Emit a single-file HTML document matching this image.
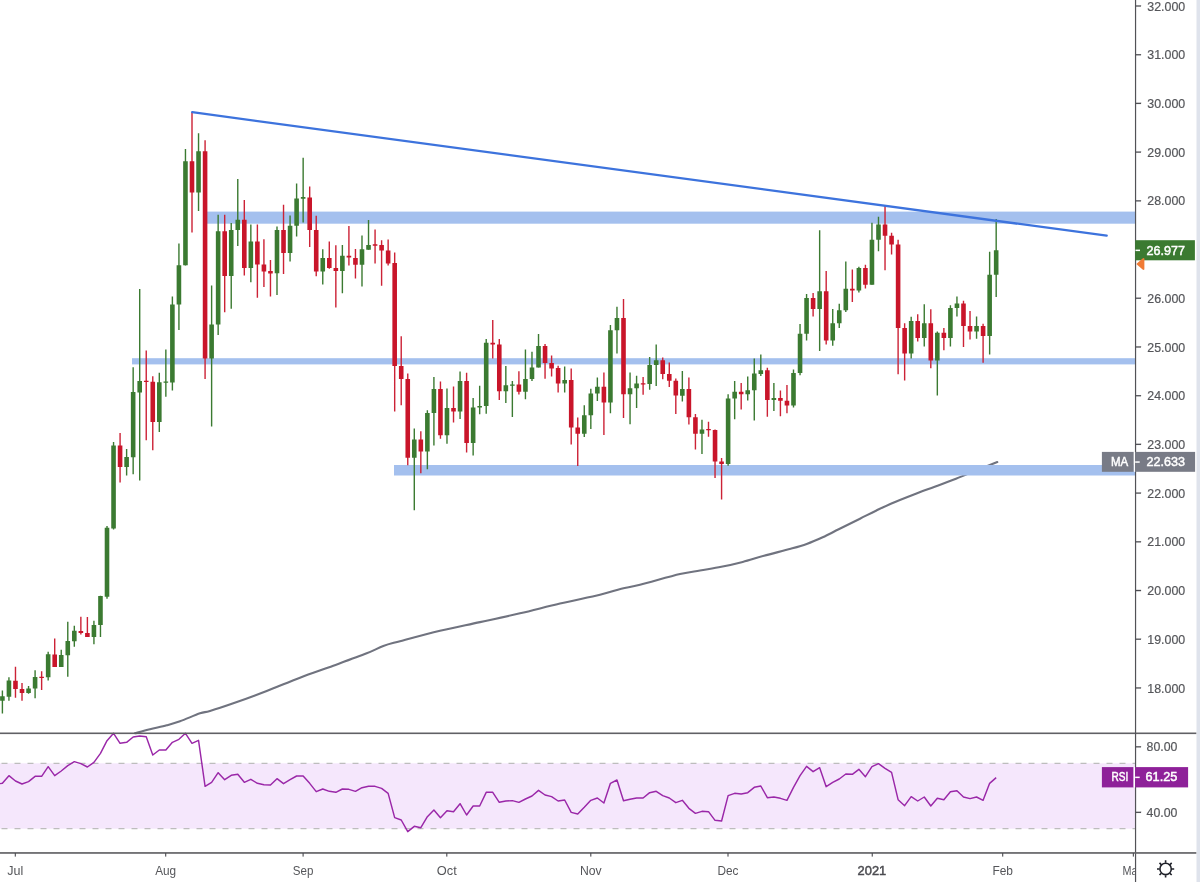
<!DOCTYPE html>
<html><head><meta charset="utf-8"><title>Chart</title>
<style>html,body{margin:0;padding:0;background:#fff}body{width:1200px;height:882px;overflow:hidden}svg{display:block}text{font-family:"Liberation Sans",sans-serif}</style>
</head><body>
<svg width="1200" height="882" viewBox="0 0 1200 882">
<rect width="1200" height="882" fill="#fff"/>
<rect x="1196.5" y="0" width="3.5" height="882" fill="#dfe3ec"/>
<rect x="0" y="763.3" width="1135.5" height="65.4" fill="#f5e7fc"/>
<line x1="1.5" y1="763.3" x2="1135.5" y2="763.3" stroke="#bdbdbd" stroke-width="1.2" stroke-dasharray="6 7"/>
<line x1="1.5" y1="828.7" x2="1135.5" y2="828.7" stroke="#bdbdbd" stroke-width="1.2" stroke-dasharray="6 7"/>
<path d="M135 733.3C137.5 732.63 144.72 730.63 150 729.3C155.28 727.97 161.7 726.63 166.7 725.3C171.7 723.97 174.45 723.3 180 721.3C185.55 719.3 195 715.02 200 713.3C205 711.58 204.45 712.67 210 711C215.55 709.33 223.85 706.63 233.3 703.3C242.75 699.97 255.58 695.27 266.7 691C277.82 686.73 288.9 681.92 300 677.7C311.1 673.48 322.18 669.77 333.3 665.7C344.42 661.63 358.37 656.58 366.7 653.3C375.03 650.02 377.75 648.02 383.3 646C388.85 643.98 390.55 643.75 400 641.2C409.45 638.65 426.67 633.88 440 630.7C453.33 627.52 466.67 625 480 622.1C493.33 619.2 506.67 616.4 520 613.3C533.33 610.2 546.67 606.6 560 603.5C573.33 600.4 589.78 597.15 600 594.7C610.22 592.25 614.63 590.45 621.3 588.8C627.97 587.15 630.22 587.25 640 584.8C649.78 582.35 670 576.48 680 574.1C690 571.72 693.12 571.72 700 570.5C706.88 569.28 714.18 568.23 721.3 566.8C728.42 565.37 735.58 563.75 742.7 561.9C749.82 560.05 756 557.88 764 555.7C772 553.52 783.58 550.75 790.7 548.8C797.82 546.85 801.37 545.92 806.7 544C812.03 542.08 817.37 539.75 822.7 537.3C828.03 534.85 832.48 532.4 838.7 529.3C844.92 526.2 853.78 521.8 860 518.7C866.22 515.6 870.67 513.28 876 510.7C881.33 508.12 885.78 505.87 892 503.2C898.22 500.53 906.18 497.45 913.3 494.7C920.42 491.95 927.58 489.37 934.7 486.7C941.82 484.03 948.9 481.47 956 478.7C963.1 475.93 970.42 472.87 977.3 470.1C984.18 467.33 993.97 463.43 997.3 462.1" fill="none" stroke="#70737f" stroke-width="2.1" stroke-linejoin="round" stroke-linecap="round"/>
<g fill="#a4c0ee">
<rect x="207" y="211.6" width="928.5" height="12.1"/>
<rect x="132" y="358.2" width="1003.5" height="6.2"/>
<rect x="394" y="465" width="741.5" height="10.5"/>
</g>
<path d="M2.4 690.6V713.5M8.94 677.3V700.8M28.55 686.1V693.7M35.09 670.2V698.2M48.17 651.8V680.4M61.24 649.8V667.1M67.78 621.8V676.7M74.32 625.7V646.7M93.93 620.8V644.3M100.47 595.7V637.1M107.01 526V598.8M113.55 442.1V529.5M126.62 448.9V475.6M133.16 367.3V474.2M139.7 289V480.5M159.31 372.7V432M165.85 349.6V396.7M172.39 296.5V390.4M178.93 243.4V330M185.46 149V265.5M198.54 133.2V211M211.62 285.6V426.6M218.15 214.8V335M231.23 223V308.7M237.77 178.9V246.1M250.84 224.6V282.3M277 226.5V295.1M290.07 215.6V261.4M296.61 183.5V236.6M303.15 157.7V222.4M322.76 249.3V284.6M342.38 244.9V293.3M361.99 235.4V286.5M368.53 219.9V249.8M414.29 428.4V510.3M427.37 410.2V469.3M433.91 377V445.6M446.98 388.4V443.7M460.06 371.6V418.9M473.14 398V455.6M479.67 385.7V414.3M486.21 338.9V413.7M505.83 365.9V402.9M512.36 381.1V417M525.44 349.5V399.3M531.98 351.7V381.1M538.52 333.9V367.6M564.67 366.5V392.4M584.28 405.2V437M590.82 388.8V429.1M597.36 377.4V401.1M610.43 324.9V413.3M616.97 306.7V353.5M630.05 372.5V424.2M636.59 375.8V407.9M649.66 357V389.7M656.2 344.5V386.1M682.35 371V401.5M701.97 419.8V453.9M728.12 394.3V465.7M734.66 381V419.2M747.73 376.5V400.4M754.27 358.6V420.4M760.81 354.5V375.9M773.88 383.1V411M793.5 369.4V407.6M800.04 323.9V375.2M806.57 293.9V340.6M819.65 230.3V351.1M832.73 308.9V345.7M839.26 303.7V328M845.8 261.6V311.9M858.88 266.7V292.6M871.95 222.7V284.7M878.49 216.7V251.2M911.18 316.8V358.6M924.26 304.2V346.4M937.33 331.4V395.4M950.41 305.3V346.4M956.95 296.6V316.5M976.56 316.5V338.8M989.64 251.7V354.6M996.18 219V297.1" stroke="#3b7a31" stroke-width="1.4" fill="none"/>
<path d="M15.48 666.7V697.8M22.01 683.1V700.8M41.63 671.2V690M54.7 638.6V667.1M80.86 616.7V634.5M87.39 617.1V637.1M120.08 432.9V482.4M146.24 350.4V440.2M152.77 376.3V450.3M192 112.2V232.5M205.08 140.3V379M224.69 214.8V312.2M244.31 200.1V275.5M257.38 224.4V297.8M263.92 239.3V286.9M270.46 260V296.5M283.53 204.8V274.1M309.69 186.4V247.1M316.22 215.8V276.2M329.3 241.6V268.8M335.84 245.2V307.5M348.91 226.1V265.6M355.45 249V278.4M375.07 229.4V263.4M381.6 240.3V285.7M388.14 239.5V265.6M394.68 252.5V411.6M401.22 336.3V405.3M407.76 373.5V465.2M420.83 431.2V473.3M440.45 381.6V438.8M453.52 386.5V422.4M466.6 372.7V452.4M492.75 319.9V358.5M499.29 338.9V400.1M518.9 371.3V394.4M545.05 343.9V378.8M551.59 355.4V376.6M558.13 365.7V392.4M571.21 368.4V444.6M577.74 417.4V465.9M603.9 372.5V435.1M623.51 299V418M643.12 377.1V394.8M662.74 357.6V379.3M669.28 362.4V386.9M675.81 378.5V414.1M688.89 377.6V424.6M695.43 414.1V449.4M708.5 421.8V436.7M715.04 429.4V478M721.58 458V499.4M741.19 383.1V409.6M767.35 367.8V416.7M780.42 390.6V416.3M786.96 385.1V413.3M813.11 292.9V316.5M826.19 271.1V344.6M852.34 269.5V302.1M865.42 264.8V288.5M885.03 205V270.3M891.57 232.7V254.5M898.11 239.8V374.2M904.64 323.3V380.5M917.72 314.3V341.5M930.8 309.2V368.2M943.87 327.9V350.2M963.49 300.7V346.9M970.02 311V339.6M983.1 323.8V362.7" stroke="#cc2236" stroke-width="1.4" fill="none"/>
<path d="M0.1 696.3h4.6V700.8h-4.6zM6.64 680.4h4.6V696.7h-4.6zM26.25 688.6h4.6V693.1h-4.6zM32.79 676.9h4.6V688.6h-4.6zM45.87 654.3h4.6V677.3h-4.6zM58.94 654.9h4.6V667.1h-4.6zM65.48 641h4.6V655.3h-4.6zM72.02 630.8h4.6V641.2h-4.6zM91.63 624.9h4.6V637.1h-4.6zM98.17 596.1h4.6V624.9h-4.6zM104.71 527.8h4.6V596.7h-4.6zM111.25 445.6h4.6V528.6h-4.6zM124.32 457.1h4.6V466.9h-4.6zM130.86 392h4.6V457.3h-4.6zM137.4 380.9h4.6V392.6h-4.6zM157.01 382.2h4.6V422h-4.6zM163.55 381.45h4.6V382.75h-4.6zM170.09 304.6h4.6V382.5h-4.6zM176.63 265.2h4.6V304.6h-4.6zM183.16 161.2h4.6V265.2h-4.6zM196.24 151.2h4.6V192.5h-4.6zM209.32 324.5h4.6V358.6h-4.6zM215.85 231.2h4.6V324.5h-4.6zM228.93 230h4.6V276h-4.6zM235.47 219.7h4.6V230h-4.6zM248.54 241.5h4.6V267.9h-4.6zM274.7 230h4.6V273.3h-4.6zM287.77 225.7h4.6V252.9h-4.6zM294.31 198.5h4.6V225.7h-4.6zM300.85 196.9h4.6V198.8h-4.6zM320.46 258h4.6V271.6h-4.6zM340.08 255.8h4.6V271h-4.6zM359.69 249.3h4.6V264.8h-4.6zM366.23 244.9h4.6V249.8h-4.6zM411.99 439.6h4.6V457.8h-4.6zM425.07 412.9h4.6V451.6h-4.6zM431.61 389h4.6V412.9h-4.6zM444.68 408h4.6V435.2h-4.6zM457.76 381.1h4.6V411.6h-4.6zM470.84 407.5h4.6V442.9h-4.6zM477.37 406.1h4.6V407.5h-4.6zM483.91 342.7h4.6V406.1h-4.6zM503.53 385.2h4.6V391.2h-4.6zM510.06 384.4h4.6V385.7h-4.6zM523.14 378.9h4.6V391.7h-4.6zM529.68 367.5h4.6V378.9h-4.6zM536.22 346.1h4.6V367.6h-4.6zM562.37 380.1h4.6V383.4h-4.6zM581.98 415.2h4.6V433.7h-4.6zM588.52 393.5h4.6V415.2h-4.6zM595.06 386.7h4.6V393.5h-4.6zM608.13 330.3h4.6V402.4h-4.6zM614.67 318.1h4.6V330.3h-4.6zM627.75 388.3h4.6V394.3h-4.6zM634.29 383.4h4.6V388.3h-4.6zM647.36 364.9h4.6V383.9h-4.6zM653.9 360.3h4.6V364.9h-4.6zM680.05 389h4.6V395.7h-4.6zM699.67 429.4h4.6V433.7h-4.6zM725.82 398.4h4.6V464.1h-4.6zM732.36 391.8h4.6V398.4h-4.6zM745.43 390.2h4.6V394.3h-4.6zM751.97 373.5h4.6V390.2h-4.6zM758.51 370.2h4.6V373.9h-4.6zM771.58 398h4.6V400h-4.6zM791.2 372.9h4.6V405.5h-4.6zM797.74 333.7h4.6V372.9h-4.6zM804.27 298h4.6V333.7h-4.6zM817.35 291.2h4.6V308.9h-4.6zM830.43 323.3h4.6V340.5h-4.6zM836.96 310.3h4.6V323.3h-4.6zM843.5 288.8h4.6V310.3h-4.6zM856.58 268.1h4.6V290.4h-4.6zM869.65 239.8h4.6V284.7h-4.6zM876.19 224.6h4.6V239.8h-4.6zM908.88 321.1h4.6V353.5h-4.6zM921.96 323.3h4.6V338h-4.6zM935.03 332.8h4.6V360.5h-4.6zM948.11 308h4.6V338h-4.6zM954.65 303.4h4.6V308h-4.6zM974.26 326h4.6V331.4h-4.6zM987.34 274.8h4.6V336.1h-4.6zM993.88 250.3h4.6V274.8h-4.6z" fill="#3b7a31"/>
<path d="M13.18 680.8h4.6V689h-4.6zM19.71 689h4.6V693.1h-4.6zM39.33 676.7h4.6V678h-4.6zM52.4 654.5h4.6V667.1h-4.6zM78.56 631h4.6V633.1h-4.6zM85.09 632.9h4.6V637.1h-4.6zM117.78 445.6h4.6V466.9h-4.6zM143.94 380.8h4.6V382.1h-4.6zM150.47 381.7h4.6V422h-4.6zM189.7 161.2h4.6V192.5h-4.6zM202.78 151.2h4.6V358.6h-4.6zM222.39 231.2h4.6V276h-4.6zM242.01 219.7h4.6V267.9h-4.6zM255.08 241.5h4.6V264.6h-4.6zM261.62 264.6h4.6V271.4h-4.6zM268.16 270.9h4.6V273.6h-4.6zM281.23 230h4.6V252.9h-4.6zM307.39 197.6h4.6V229.9h-4.6zM313.92 229.9h4.6V271.6h-4.6zM327 258h4.6V268h-4.6zM333.54 268h4.6V271h-4.6zM346.61 255.8h4.6V257.4h-4.6zM353.15 258h4.6V264.8h-4.6zM372.77 244.35h4.6V245.65h-4.6zM379.3 244.9h4.6V250.6h-4.6zM385.84 250.6h4.6V263.4h-4.6zM392.38 262.9h4.6V366h-4.6zM398.92 366h4.6V379h-4.6zM405.46 379h4.6V457.8h-4.6zM418.53 439.6h4.6V451.6h-4.6zM438.15 389h4.6V435.2h-4.6zM451.22 408h4.6V411.6h-4.6zM464.3 381.1h4.6V442.9h-4.6zM490.45 342.7h4.6V344.4h-4.6zM496.99 344.4h4.6V391.2h-4.6zM516.6 384.4h4.6V391.7h-4.6zM542.75 346.1h4.6V363h-4.6zM549.29 363h4.6V368.4h-4.6zM555.83 367.9h4.6V383.4h-4.6zM568.91 380.1h4.6V427.5h-4.6zM575.44 427.5h4.6V433.7h-4.6zM601.6 386.7h4.6V402.4h-4.6zM621.21 318.1h4.6V394.3h-4.6zM640.82 383.3h4.6V384.6h-4.6zM660.44 360.3h4.6V373.9h-4.6zM666.98 373.9h4.6V380.7h-4.6zM673.51 380.7h4.6V395.6h-4.6zM686.59 389h4.6V417.3h-4.6zM693.13 417.3h4.6V433.7h-4.6zM706.2 428.95h4.6V430.25h-4.6zM712.74 430h4.6V461.6h-4.6zM719.28 461.6h4.6V464.1h-4.6zM738.89 391.8h4.6V394.3h-4.6zM765.05 370.2h4.6V400h-4.6zM778.12 398h4.6V400.8h-4.6zM784.66 400.8h4.6V405.5h-4.6zM810.81 298h4.6V308.9h-4.6zM823.89 291.2h4.6V340.5h-4.6zM850.04 288.8h4.6V290.4h-4.6zM863.12 268.1h4.6V284.7h-4.6zM882.73 224.6h4.6V235.7h-4.6zM889.27 235.7h4.6V244.4h-4.6zM895.81 244.4h4.6V328h-4.6zM902.34 328h4.6V353.5h-4.6zM915.42 321.1h4.6V338h-4.6zM928.5 323.3h4.6V360.5h-4.6zM941.57 332.8h4.6V338h-4.6zM961.19 303.4h4.6V326h-4.6zM967.72 326h4.6V331.4h-4.6zM980.8 326h4.6V336.1h-4.6z" fill="#c9152a"/>
<line x1="192.2" y1="112.2" x2="1106.7" y2="235.7" stroke="#3d73dd" stroke-width="2.3" stroke-linecap="round"/>
<polyline points="0,783.63 2.4,783.33 8.94,775.67 15.48,781 22.01,784 28.55,781.67 35.09,776.33 41.63,776.33 48.17,766.67 54.7,775.67 61.24,771 67.78,765.67 74.32,761.67 80.86,763.67 87.39,767 93.93,762.33 100.47,753.33 107.01,740.67 113.55,733.33 120.08,743.33 126.62,742.33 133.16,737 139.7,736 146.24,736.67 152.77,755 159.31,750 165.85,750 172.39,742.33 178.93,739.33 185.46,733.33 192,743.33 198.54,740.33 205.08,786.33 211.62,782.33 218.15,772.67 224.69,779.67 231.23,775.33 237.77,774.33 244.31,782.33 250.84,779.33 257.38,783.33 263.92,784.67 270.46,785 277,778.67 283.53,783.67 290.07,779.67 296.61,776 303.15,776 309.69,783.33 316.22,791.67 322.76,789 329.3,791.33 335.84,792.33 342.38,789 348.91,789.33 355.45,791.33 361.99,787.67 368.53,786.33 375.07,786.33 381.6,788.33 388.14,793.33 394.68,817.67 401.22,820 407.76,831.67 414.29,826.33 420.83,827.67 427.37,816.67 433.91,810 440.45,817.67 446.98,810.67 453.52,811.67 460.06,803.67 466.6,815 473.14,806 479.67,806 486.21,792.33 492.75,792.33 499.29,802.33 505.83,801 512.36,800.67 518.9,802.33 525.44,799 531.98,796 538.52,790.33 545.05,795 551.59,796.67 558.13,801 564.67,800 571.21,812.33 577.74,814 584.28,807.33 590.82,800.33 597.36,798 603.9,803 610.43,783.33 616.97,780 623.51,800.67 630.05,799.33 636.59,798 643.12,798 649.66,792.67 656.2,791.33 662.74,795.67 669.28,798 675.81,802.67 682.35,800.33 688.89,808.33 695.43,813.33 701.97,811.33 708.5,811.67 715.04,820.33 721.58,821 728.12,795.67 734.66,793.33 741.19,794 747.73,792.67 754.27,787.33 760.81,786 767.35,797.67 773.88,797 780.42,798.33 786.96,800.33 793.5,787.33 800.04,775.67 806.57,766.33 813.11,771.67 819.65,767.67 826.19,786.67 832.73,782.33 839.26,779 845.8,774 852.34,774.33 858.88,769.33 865.42,776.67 871.95,766.67 878.49,763.67 885.03,768.33 891.57,772.33 898.11,799.67 904.64,805.67 911.18,796.67 917.72,801 924.26,797 930.8,806 937.33,798.33 943.87,799.67 950.41,791.67 956.95,790.67 963.49,797 970.02,798.67 976.56,797 983.1,800.33 989.64,783.33 996.18,777.67" fill="none" stroke="#9a27a8" stroke-width="1.45" stroke-linejoin="round"/>
<rect x="0" y="732.5" width="1196.3" height="1.6" fill="#606065"/>
<rect x="1134.95" y="0" width="1.2" height="882" fill="#525257"/>
<rect x="0" y="852.1" width="1196.3" height="1.7" fill="#646468"/>
<g font-size="13.5" fill="#55565a" stroke="#55565a" stroke-width="0.2">
<rect x="1135.5" y="5.45" width="5.5" height="1.1" fill="#4b4b50"/>
<text x="1147.3" y="10.6" textLength="37.9" lengthAdjust="spacingAndGlyphs">32.000</text>
<rect x="1135.5" y="54.16" width="5.5" height="1.1" fill="#4b4b50"/>
<text x="1147.3" y="59.31" textLength="37.9" lengthAdjust="spacingAndGlyphs">31.000</text>
<rect x="1135.5" y="102.87" width="5.5" height="1.1" fill="#4b4b50"/>
<text x="1147.3" y="108.02" textLength="37.9" lengthAdjust="spacingAndGlyphs">30.000</text>
<rect x="1135.5" y="151.58" width="5.5" height="1.1" fill="#4b4b50"/>
<text x="1147.3" y="156.73" textLength="37.9" lengthAdjust="spacingAndGlyphs">29.000</text>
<rect x="1135.5" y="200.29" width="5.5" height="1.1" fill="#4b4b50"/>
<text x="1147.3" y="205.44" textLength="37.9" lengthAdjust="spacingAndGlyphs">28.000</text>
<rect x="1135.5" y="249" width="5.5" height="1.1" fill="#4b4b50"/>
<text x="1147.3" y="254.15" textLength="37.9" lengthAdjust="spacingAndGlyphs">27.000</text>
<rect x="1135.5" y="297.71" width="5.5" height="1.1" fill="#4b4b50"/>
<text x="1147.3" y="302.86" textLength="37.9" lengthAdjust="spacingAndGlyphs">26.000</text>
<rect x="1135.5" y="346.42" width="5.5" height="1.1" fill="#4b4b50"/>
<text x="1147.3" y="351.57" textLength="37.9" lengthAdjust="spacingAndGlyphs">25.000</text>
<rect x="1135.5" y="395.13" width="5.5" height="1.1" fill="#4b4b50"/>
<text x="1147.3" y="400.28" textLength="37.9" lengthAdjust="spacingAndGlyphs">24.000</text>
<rect x="1135.5" y="443.84" width="5.5" height="1.1" fill="#4b4b50"/>
<text x="1147.3" y="448.99" textLength="37.9" lengthAdjust="spacingAndGlyphs">23.000</text>
<rect x="1135.5" y="492.55" width="5.5" height="1.1" fill="#4b4b50"/>
<text x="1147.3" y="497.7" textLength="37.9" lengthAdjust="spacingAndGlyphs">22.000</text>
<rect x="1135.5" y="541.26" width="5.5" height="1.1" fill="#4b4b50"/>
<text x="1147.3" y="546.41" textLength="37.9" lengthAdjust="spacingAndGlyphs">21.000</text>
<rect x="1135.5" y="589.97" width="5.5" height="1.1" fill="#4b4b50"/>
<text x="1147.3" y="595.12" textLength="37.9" lengthAdjust="spacingAndGlyphs">20.000</text>
<rect x="1135.5" y="638.68" width="5.5" height="1.1" fill="#4b4b50"/>
<text x="1147.3" y="643.83" textLength="37.9" lengthAdjust="spacingAndGlyphs">19.000</text>
<rect x="1135.5" y="687.39" width="5.5" height="1.1" fill="#4b4b50"/>
<text x="1147.3" y="692.54" textLength="37.9" lengthAdjust="spacingAndGlyphs">18.000</text>
<rect x="1135.5" y="746.25" width="5.5" height="1.1" fill="#4b4b50"/>
<text x="1146.6" y="751.4" textLength="30.8" lengthAdjust="spacingAndGlyphs">80.00</text>
<rect x="1135.5" y="811.85" width="5.5" height="1.1" fill="#4b4b50"/>
<text x="1146.6" y="817" textLength="30.8" lengthAdjust="spacingAndGlyphs">40.00</text>
</g>
<g font-size="12.6" fill="#55565a" text-anchor="middle">
<rect x="14.75" y="853" width="1.1" height="3.6" fill="#4b4b50"/>
<text x="7.3" y="875.3" text-anchor="start" textLength="16" lengthAdjust="spacingAndGlyphs">Jul</text>
<rect x="165.15" y="853" width="1.1" height="3.6" fill="#4b4b50"/>
<text x="155.2" y="875.3" text-anchor="start" textLength="21" lengthAdjust="spacingAndGlyphs">Aug</text>
<rect x="302.55" y="853" width="1.1" height="3.6" fill="#4b4b50"/>
<text x="292.8" y="875.3" text-anchor="start" textLength="20.6" lengthAdjust="spacingAndGlyphs">Sep</text>
<rect x="446.25" y="853" width="1.1" height="3.6" fill="#4b4b50"/>
<text x="436.8" y="875.3" text-anchor="start" textLength="20" lengthAdjust="spacingAndGlyphs">Oct</text>
<rect x="590.25" y="853" width="1.1" height="3.6" fill="#4b4b50"/>
<text x="579.95" y="875.3" text-anchor="start" textLength="21.7" lengthAdjust="spacingAndGlyphs">Nov</text>
<rect x="727.45" y="853" width="1.1" height="3.6" fill="#4b4b50"/>
<text x="717.5" y="875.3" text-anchor="start" textLength="21" lengthAdjust="spacingAndGlyphs">Dec</text>
<rect x="1002.15" y="853" width="1.1" height="3.6" fill="#4b4b50"/>
<text x="992.4" y="875.3" text-anchor="start" textLength="20.6" lengthAdjust="spacingAndGlyphs">Feb</text>
<rect x="871.7" y="853" width="1.1" height="3.6" fill="#4b4b50"/>
<text x="857.6" y="875.3" text-anchor="start" textLength="28.6" lengthAdjust="spacingAndGlyphs" fill="#4b4b50" stroke="#4b4b50" stroke-width="0.45">2021</text>
<rect x="1132.8" y="853" width="1.1" height="3.6" fill="#4b4b50"/>
</g>
<clipPath id="cm"><rect x="1100" y="856" width="34.8" height="26"/></clipPath>
<text x="1122.6" y="875.3" font-size="12.6" fill="#55565a" clip-path="url(#cm)" textLength="18.6" lengthAdjust="spacingAndGlyphs">Mar</text>
<rect x="1135.2" y="240.2" width="59.7" height="20.1" fill="#3b7a31"/>
<rect x="1135.5" y="249.6" width="4.5" height="1.5" fill="#fff"/>
<text x="1146.6" y="254.5" font-size="13.4" fill="#fff" stroke="#fff" stroke-width="0.5" textLength="38.5" lengthAdjust="spacingAndGlyphs">26.977</text>
<path d="M1136.3 264 L1142.6 258.4 Q1144.4 257.2 1144.4 259.3 V268.7 Q1144.4 270.8 1142.6 269.6 Z" fill="#f07b35"/>
<rect x="1101.9" y="451.9" width="31.9" height="19.9" fill="#787b86"/>
<rect x="1133.8" y="451.9" width="1.4" height="19.9" fill="#fff"/>
<rect x="1135.2" y="451.9" width="59.9" height="19.9" fill="#787b86"/>
<rect x="1135.2" y="461.3" width="4.5" height="1.5" fill="#fff"/>
<text x="1111" y="465.8" font-size="13.4" fill="#fff" stroke="#fff" stroke-width="0.5" textLength="17.2" lengthAdjust="spacingAndGlyphs">MA</text>
<text x="1146.6" y="465.9" font-size="13.4" fill="#fff" stroke="#fff" stroke-width="0.5" textLength="38.5" lengthAdjust="spacingAndGlyphs">22.633</text>
<rect x="1101.9" y="767.1" width="31.7" height="20.3" fill="#8e2199"/>
<rect x="1133.6" y="767.1" width="1.5" height="20.3" fill="#fff"/>
<rect x="1135.1" y="767.1" width="53" height="20.3" fill="#8e2199"/>
<rect x="1135.2" y="776.6" width="4.5" height="1.5" fill="#fff"/>
<text x="1111.5" y="781.3" font-size="13.4" fill="#fff" stroke="#fff" stroke-width="0.5" textLength="16.8" lengthAdjust="spacingAndGlyphs">RSI</text>
<text x="1145.5" y="781.3" font-size="13.4" fill="#fff" stroke="#fff" stroke-width="0.5" textLength="31.8" lengthAdjust="spacingAndGlyphs">61.25</text>
<g stroke="#1e2028" fill="none" stroke-width="1.6" stroke-linecap="butt">
<circle cx="1165.6" cy="868.95" r="5.7"/>
<path d="M1171.8 868.95L1174.2 868.95M1169.98 873.33L1171.68 875.03M1165.6 875.15L1165.6 877.55M1161.22 873.33L1159.52 875.03M1159.4 868.95L1157 868.95M1161.22 864.57L1159.52 862.87M1165.6 862.75L1165.6 860.35M1169.98 864.57L1171.68 862.87"/>
</g>
</svg></body></html>
